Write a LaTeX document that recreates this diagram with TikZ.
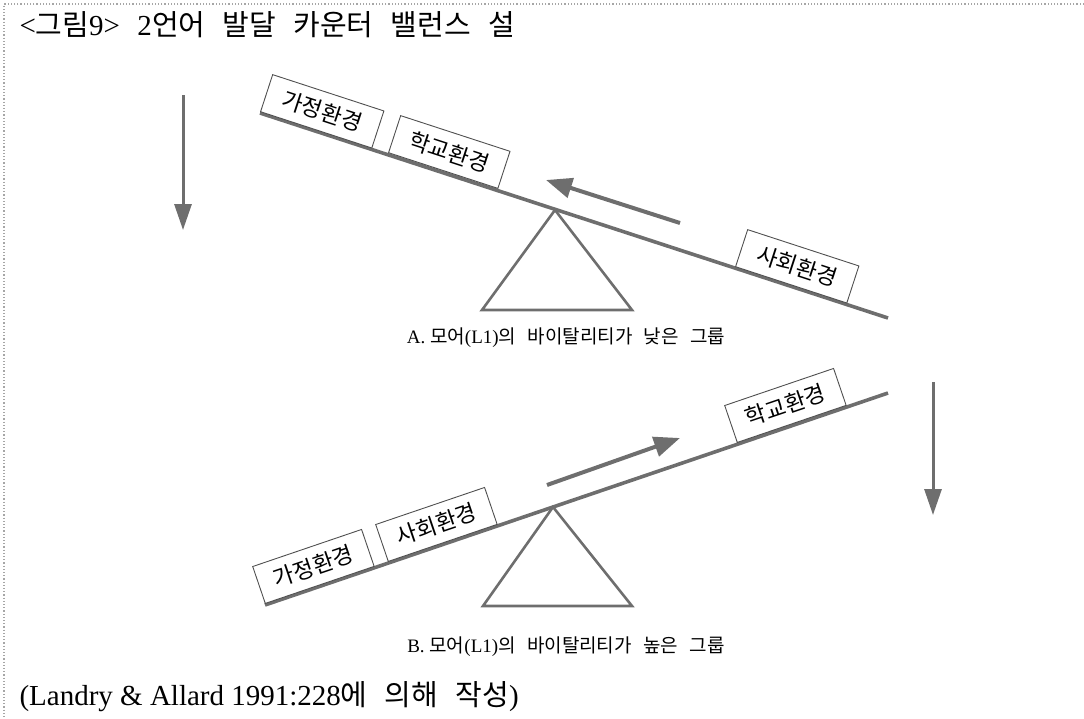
\documentclass[tikz,border=0pt]{standalone}
\usepackage{fontspec}
\setmainfont{Liberation Serif}
\newfontfamily\kr{Noto Sans CJK KR}
\usetikzlibrary{arrows.meta}
\newcommand{\K}[1]{{\kr #1}}
\newcommand{\wsp}{\hspace{0.6em}}
\definecolor{beamgray}{HTML}{6E6E6E}
\definecolor{boxgray}{HTML}{505050}
\tikzset{
  beam/.style={draw=beamgray, line width=3.6pt},
  pivot/.style={draw=beamgray, line width=2.6pt, line join=miter},
  envbox/.style={draw=boxgray, line width=0.9pt, fill=white, anchor=south west,
    minimum height=39pt, inner sep=0pt, font=\kr\fontsize{22.5}{22.5}\selectfont},
  move/.style={draw=beamgray, line width=4pt, -{Triangle[length=26pt,width=20pt]}},
  fall/.style={draw=beamgray, line width=3pt, -{Triangle[length=26pt,width=17pt]}},
  frame/.style={draw=gray!70, line width=1.2pt, dotted},
  caption/.style={font=\fontsize{19}{19}\selectfont, anchor=base},
  titletext/.style={font=\fontsize{29}{29}\selectfont, anchor=base west}
}
\begin{document}
\begin{tikzpicture}[x=1pt,y=-1pt]
\useasboundingbox (0,0) rectangle (1084,718);
% frame
\coordinate (fTL) at (4,4);
\coordinate (fTR) at (1084,4);
\coordinate (fBL) at (4,718);
\draw[frame] (fTR) -- (fTL) -- (fBL);
% title
\node[titletext] (title) at (16,35) {<\K{그림}9>\wsp 2\K{언어}\wsp\K{발달}\wsp\K{카운터}\wsp\K{밸런스}\wsp\K{설}};
% ---------------- A ----------------
\coordinate (a1) at (260,113);
\coordinate (a2) at (888,318);
\coordinate (ap) at (555,210);
\coordinate (al) at (482,310);
\coordinate (ar) at (632,310);
\draw[pivot] (ap) -- (al) -- (ar) -- cycle;
\draw[beam] (a1) -- (a2);
\node[envbox, rotate=-18.08, minimum width=117pt] (aHome) at (260,112) {가정환경};
\node[envbox, rotate=-18.08, minimum width=115pt] (aSchool) at (388,153) {학교환경};
\node[envbox, rotate=-18.08, minimum width=117pt] (aSoc) at (735,267) {사회환경};
\coordinate (amS) at (680,223);
\coordinate (amE) at (546,180);
\draw[move] (amS) -- (amE);
\coordinate (lfS) at (183,95);
\coordinate (lfE) at (183,230);
\draw[fall] (lfS) -- (lfE);
\node[caption] (capA) at (566,343) {A. \K{모어}(L1)\K{의}\wsp\K{바이탈리티가}\wsp\K{낮은}\wsp\K{그룹}};
% ---------------- B ----------------
\coordinate (b1) at (265,605);
\coordinate (b2) at (888,393);
\coordinate (bp) at (553,507);
\coordinate (bl) at (483,606);
\coordinate (br) at (632,606);
\draw[pivot] (bp) -- (bl) -- (br) -- cycle;
\draw[beam] (b1) -- (b2);
\node[envbox, rotate=18.8, minimum width=115pt] (bHome) at (265,604) {가정환경};
\node[envbox, rotate=18.8, minimum width=115pt] (bSoc) at (388,562) {사회환경};
\node[envbox, rotate=18.8, minimum width=115pt] (bSchool) at (737,443) {학교환경};
\coordinate (bmS) at (547,485);
\coordinate (bmE) at (680,438);
\draw[move] (bmS) -- (bmE);
\coordinate (rfS) at (933,382);
\coordinate (rfE) at (933,515);
\draw[fall] (rfS) -- (rfE);
\node[caption] (capB) at (566,652) {B. \K{모어}(L1)\K{의}\wsp\K{바이탈리티가}\wsp\K{높은}\wsp\K{그룹}};
% source
\node[titletext] (src) at (16,705) {(Landry \& Allard 1991:228\K{에}\wsp\K{의해}\wsp\K{작성})};
\end{tikzpicture}
\end{document}
